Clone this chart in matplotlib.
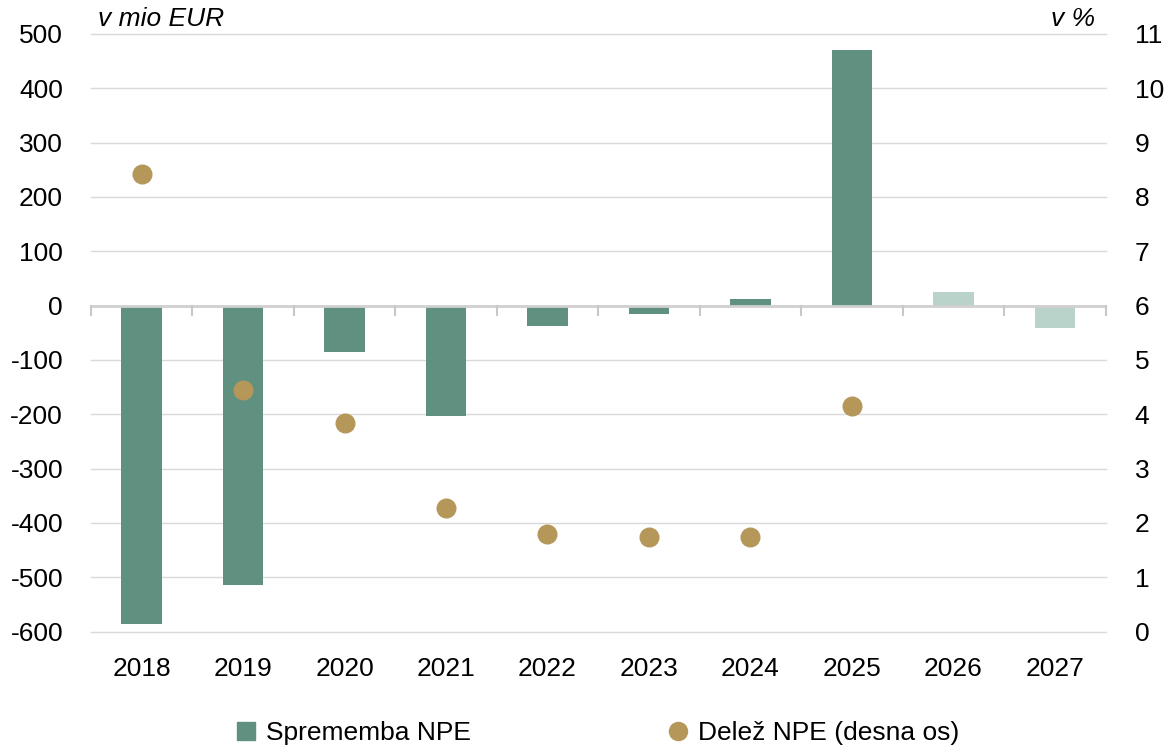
import matplotlib
matplotlib.use("Agg")
from matplotlib import pyplot as plt
from matplotlib.lines import Line2D
from matplotlib.patches import Patch
import numpy as np

years = ['2018', '2019', '2020', '2021', '2022', '2023', '2024', '2025', '2026', '2027']
change = [-585, -515, -85, -204, -37, -16, 12, 471, 25, -42]
share_years = ['2018', '2019', '2020', '2021', '2022', '2023', '2024', '2025']
share = [8.43, 4.45, 3.84, 2.28, 1.80, 1.75, 1.75, 4.16]

dark = '#5f9080'
light = '#b9d3cb'
gold = '#b5975a'

plt.rcParams['font.family'] = ['Liberation Sans', 'DejaVu Sans']
plt.rcParams['font.size'] = 19
plt.rcParams['axes.unicode_minus'] = False

fig = plt.figure(figsize=(11.65, 7.52), dpi=100)
ax = fig.add_axes([0.078, 0.160, 0.871, 0.795])
x = np.arange(len(years))
colors = [dark] * 8 + [light] * 2
ax.bar(x, change, width=0.4, color=colors, zorder=3)
ax.set_ylim(-600, 500)
ax.set_yticks(range(-600, 501, 100))
ax.set_xlim(-0.5, len(years) - 0.5)
ax.set_xticks(x)
ax.set_xticklabels(years)
ax.tick_params(axis='x', length=0, pad=18)
ax.tick_params(axis='y', length=0, pad=20)
ax.grid(axis='y', color='#d9d9d9', lw=1, zorder=0)
for gl in ax.get_ygridlines():
    gl.set_clip_on(False)
for s in ax.spines.values():
    s.set_visible(False)
ax.axhline(0, color='#d0d0d0', lw=2, zorder=4)
# small tick marks on the zero line between categories
for b in np.arange(-0.5, len(years), 1.0):
    ax.plot([b, b], [0, -18], color='#c8c8c8', lw=1.5, zorder=4, clip_on=False)

ax2 = ax.twinx()
ax2.set_ylim(0, 11)
ax2.set_yticks(range(0, 12))
ax2.tick_params(axis='y', length=0, pad=21)
for s in ax2.spines.values():
    s.set_visible(False)
ax2.scatter([years.index(y) for y in share_years], share, s=180, color=gold, zorder=5)

ax.text(0.007, 1.005, 'v mio EUR', transform=ax.transAxes, style='italic',
        ha='left', va='bottom', fontsize=19)
ax.text(0.99, 1.005, 'v %', transform=ax.transAxes, style='italic',
        ha='right', va='bottom', fontsize=19)

handles = [Patch(color=dark, label='Sprememba NPE'),
           Line2D([], [], marker='o', ls='', color=gold, markersize=13,
                  label='Delež NPE (desna os)')]
fig.legend(handles=handles, loc='center', bbox_to_anchor=(0.513, 0.025), ncol=2,
           frameon=False, columnspacing=7.5, handlelength=0.7, handletextpad=0.4,
           fontsize=19)

fig.savefig('out.png', dpi=100)
